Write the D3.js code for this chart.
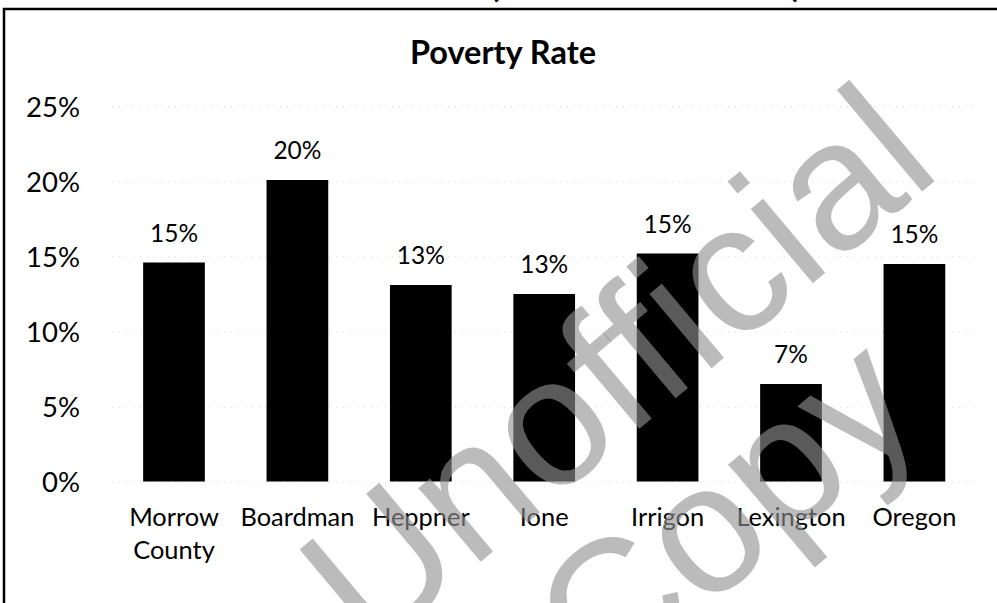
<!DOCTYPE html>
<html>
<head>
<meta charset="utf-8">
<script src="https://cdn.jsdelivr.net/npm/d3@7"></script>
<style>
  html, body { margin: 0; padding: 0; background: #fff; }
  svg { display: block; }
</style>
</head>
<body>
<svg id="chart" width="997" height="603"></svg>
<script>
// ---- data ----
const categories = ["Morrow County", "Boardman", "Heppner", "Ione", "Irrigon", "Lexington", "Oregon"];
const povertyRate = [14.6, 20.1, 13.1, 12.5, 15.2, 6.5, 14.5];
const dataLabels = ["15%", "20%", "13%", "13%", "15%", "7%", "15%"];
const yTicks = [0, 5, 10, 15, 20, 25];
const title = "Poverty Rate";
const watermarkLines = ["Unofficial", "Copy"];

// ---- setup ----
const W = 997, H = 603;
const svg = d3.select("#chart");
const FONT = "Lato, 'Open Sans', sans-serif";

function fitSize(txt, target, weight) {
  const t = svg.append("text").attr("font-family", FONT).attr("font-size", 100)
    .attr("font-weight", weight || "normal").text(txt);
  const len = t.node().getComputedTextLength();
  t.remove();
  return 100 * target / len;
}
const tickSize = fitSize("25%", 54);
const labelSize = fitSize("20%", 48);
const catSize = fitSize("Boardman", 114);
const titleSize = fitSize(title, 186, "bold");

const x = d3.scaleBand().domain(categories).range([112.3, 976.1])
  .paddingInner(0.5).paddingOuter(0.25);
const y = d3.scaleLinear().domain([0, 25]).range([481.5, 106.5]);

svg.append("rect").attr("width", W).attr("height", H).attr("fill", "#fff");

// frame
svg.append("path").attr("d", `M4,${H} V9 H${W}`)
  .attr("fill", "none").attr("stroke", "#000").attr("stroke-width", 2.5);

// cut-off heading glyphs at top
svg.append("text").attr("x", 490).attr("y", -3).attr("font-family", FONT)
  .attr("font-weight", "bold").attr("font-size", 34).text("(");
svg.append("text").attr("x", 792).attr("y", -3).attr("font-family", FONT)
  .attr("font-weight", "bold").attr("font-size", 34).text(")");

// gridlines
const grid = svg.append("g").attr("class", "grid")
  .attr("transform", "translate(112,0)")
  .call(d3.axisLeft(y).tickValues(yTicks).tickSize(-864).tickFormat(""));
grid.select(".domain").remove();
grid.selectAll(".tick line").attr("stroke", "#d4d4d4").attr("stroke-width", 1)
  .attr("stroke-dasharray", "1,6");

// y axis labels
const yAxis = svg.append("g").attr("transform", "translate(80,0)")
  .call(d3.axisLeft(y).tickValues(yTicks).tickSize(0).tickPadding(0)
    .tickFormat(d => d + "%"));
yAxis.select(".domain").remove();
yAxis.selectAll("text").attr("font-family", FONT).attr("font-size", tickSize)
  .attr("fill", "#000").attr("dy", "0.36em");

// title
svg.append("text").attr("x", 503).attr("y", 64).attr("text-anchor", "middle")
  .attr("font-family", FONT).attr("font-weight", "bold").attr("font-size", titleSize)
  .attr("fill", "#000").text(title);

// bars
svg.append("g").selectAll("rect").data(categories).join("rect")
  .attr("x", d => x(d)).attr("width", x.bandwidth())
  .attr("y", (d, i) => y(povertyRate[i]))
  .attr("height", (d, i) => y(0) - y(povertyRate[i]))
  .attr("fill", "#000");

// data labels
svg.append("g").selectAll("text").data(categories).join("text")
  .attr("x", d => x(d) + x.bandwidth() / 2)
  .attr("y", (d, i) => y(povertyRate[i]) - 21)
  .attr("text-anchor", "middle").attr("font-family", FONT)
  .attr("font-size", labelSize).attr("fill", "#000")
  .text((d, i) => dataLabels[i]);

// category labels (wrapped)
const xAxis = svg.append("g").attr("transform", `translate(0,${y(0)})`)
  .call(d3.axisBottom(x).tickSize(0).tickPadding(0));
xAxis.select(".domain").remove();
xAxis.selectAll("text").each(function (d) {
  const t = d3.select(this);
  t.attr("font-family", FONT).attr("font-size", catSize)
    .attr("fill", "#000").attr("y", 0).attr("dy", null);
  const words = d.split(" ");
  let lines = [d];
  t.text(d);
  if (this.getComputedTextLength() > x.step() && words.length > 1) lines = words;
  t.text(null);
  lines.forEach((w, k) => {
    t.append("tspan").attr("x", 0).attr("y", 44 + k * 33).text(w);
  });
});

// watermark
const wm = svg.append("g").attr("transform", "translate(450,525) rotate(-40)")
  .attr("font-family", "'Liberation Sans', Arial, sans-serif")
  .attr("font-size", 183).attr("fill", "rgb(145,145,145)").attr("fill-opacity", 0.62)
  .attr("text-anchor", "start");
wm.append("text").attr("x", -145).attr("y", 48).text(watermarkLines[0]);
wm.append("text").attr("x", 6).attr("y", 229).text(watermarkLines[1]);
</script>
</body>
</html>
